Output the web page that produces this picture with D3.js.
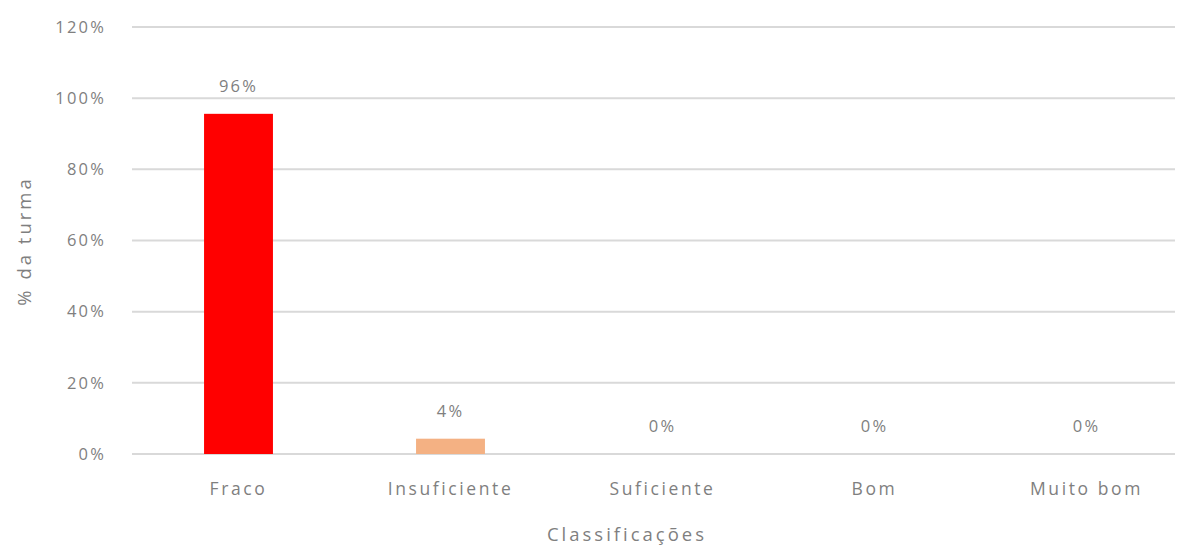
<!DOCTYPE html>
<html><head><meta charset="utf-8">
<script src="https://cdn.jsdelivr.net/npm/d3@7"></script>
<style>body{margin:0;background:#fff}text{font-family:"Open Sans",sans-serif;fill:#7f7f7f}</style>
</head><body>
<svg id="c" width="1183" height="547"></svg>
<script>
const categories = ["Fraco","Insuficiente","Suficiente","Bom","Muito bom"];
const values = [95.6, 4.3, 0, 0, 0];
const colors = ["#ff0000","#f4b183","#a9d18e","#9dc3e6","#4472c4"];
const yTicks = [0,20,40,60,80,100,120];

const svg = d3.select("#c");
const x = d3.scaleBand().domain(categories).range([132.5,1192.5]).paddingInner(0.675).paddingOuter(0.3375);
const y = d3.scaleLinear().domain([0,120]).range([454,27]);

svg.append("g").selectAll("line").data(yTicks).join("line")
  .attr("x1",132).attr("x2",1175).attr("y1",d=>y(d)).attr("y2",d=>y(d))
  .attr("stroke","#d9d9d9").attr("stroke-width",2);

svg.append("g").selectAll("text").data(yTicks).join("text")
  .attr("x",106).attr("y",d=>y(d)).attr("dy","0.35em").attr("text-anchor","end")
  .attr("font-size",16.5).attr("letter-spacing",2.2).text(d=>d+"%");

svg.append("g").selectAll("rect").data(values).join("rect")
  .attr("x",(d,i)=>x(categories[i])).attr("width",x.bandwidth())
  .attr("y",d=>y(d)).attr("height",d=>y(0)-y(d)).attr("fill",(d,i)=>colors[i]);

svg.append("g").selectAll("text").data(values).join("text")
  .attr("x",(d,i)=>x(categories[i])+x.bandwidth()/2).attr("y",d=>y(d)-22)
  .attr("text-anchor","middle").attr("font-size",16.5).attr("letter-spacing",2.2)
  .text(d=>Math.round(d)+"%");

svg.append("g").selectAll("text").data(categories).join("text")
  .attr("x",d=>x(d)+x.bandwidth()/2).attr("y",495).attr("text-anchor","middle")
  .attr("font-size",17.5).attr("letter-spacing",2.6).text(d=>d);

svg.append("text").attr("x",627).attr("y",541).attr("text-anchor","middle")
  .attr("font-size",18.5).attr("letter-spacing",3).text("Classificações");

svg.append("text").attr("transform","translate(31,241) rotate(-90)").attr("text-anchor","middle")
  .attr("font-size",18.5).attr("letter-spacing",3).text("% da turma");
</script>
</body></html>
